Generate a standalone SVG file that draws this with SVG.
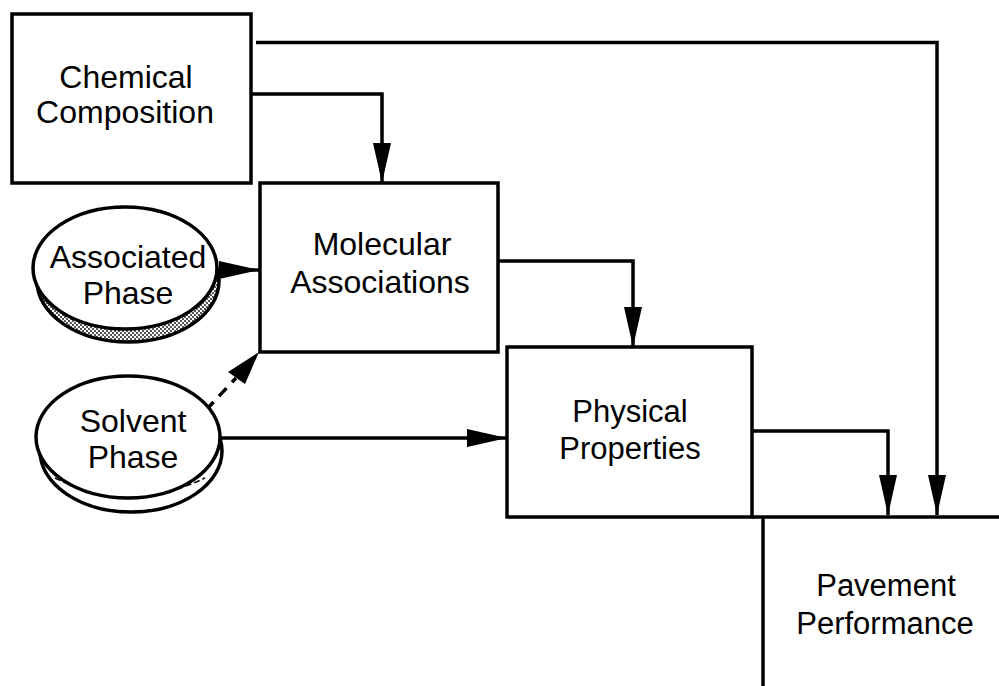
<svg xmlns="http://www.w3.org/2000/svg" width="999" height="686" viewBox="0 0 999 686">
  <style>
    .box { fill: #fff; stroke: #000; stroke-width: 3.5; }
    .line { fill: none; stroke: #000; stroke-width: 3.5; }
    .dash { fill: none; stroke: #000; stroke-width: 3.5; stroke-dasharray: 11 8; }
    .lbl { font-family: "Liberation Sans", Arial, sans-serif; font-size: 32px; fill: #000; text-anchor: middle; }
    .lbl31 { font-size: 31px; }
    .disc { fill: #fff; stroke: #000; stroke-width: 3.5; }
  </style>
  <defs>
    <pattern id="stipple" width="4" height="4" patternUnits="userSpaceOnUse">
      <rect width="4" height="4" fill="#fff"/>
      <rect x="0" y="0" width="2" height="2" fill="#555"/>
      <rect x="2" y="2" width="2" height="2" fill="#555"/>
    </pattern>
    <marker id="arrow" viewBox="0 0 40 18" refX="40" refY="9" markerWidth="40" markerHeight="18" markerUnits="userSpaceOnUse" orient="auto">
      <path d="M0,0 L40,9 L0,18 Z" fill="#000"/>
    </marker>
  </defs>

  <g id="connectors">
    <path class="line" d="M256,42.5 H937 V515" marker-end="url(#arrow)"/>
    <path class="line" d="M251,94 H382 V183" marker-end="url(#arrow)"/>
    <path class="line" d="M498,261 H633 V347" marker-end="url(#arrow)"/>
    <path class="line" d="M752,431 H888 V515" marker-end="url(#arrow)"/>
    <path class="line" d="M217,270 H259" marker-end="url(#arrow)"/>
    <path class="line" d="M221,438 H507" marker-end="url(#arrow)"/>
    <path class="dash" d="M206,410 L236,378"/>
    <path d="M259,352 L228,372 L245,384 Z" fill="#000"/>
  </g>

  <g id="chemical-composition">
    <rect class="box" x="12" y="14" width="239" height="169"/>
    <text class="lbl" x="126" y="88">Chemical</text>
    <text class="lbl" x="125" y="123">Composition</text>
  </g>

  <g id="molecular-associations">
    <rect class="box" x="260" y="183" width="238" height="169"/>
    <text class="lbl" x="382" y="255">Molecular</text>
    <text class="lbl" x="380" y="293">Associations</text>
  </g>

  <g id="physical-properties">
    <rect class="box" x="507" y="347" width="245" height="170"/>
    <text class="lbl lbl31" x="630" y="422">Physical</text>
    <text class="lbl lbl31" x="630" y="459">Properties</text>
  </g>

  <g id="pavement-performance">
    <path class="line" d="M752,517 H999 M763,517 V686"/>
    <text class="lbl lbl31" x="886" y="596">Pavement</text>
    <text class="lbl lbl31" x="885" y="634">Performance</text>
  </g>

  <g id="associated-phase">
    <ellipse cx="128" cy="281" rx="91" ry="61" fill="url(#stipple)" stroke="#000" stroke-width="3.5"/>
    <ellipse class="disc" cx="125" cy="268" rx="92" ry="61"/>
    <text class="lbl" x="128" y="268">Associated</text>
    <text class="lbl" x="128" y="304">Phase</text>
  </g>

  <g id="solvent-phase">
    <ellipse class="disc" cx="131" cy="451" rx="91" ry="61"/>
    <path d="M55,478 Q128,515 205,478" fill="none" stroke="#000" stroke-width="1.5" stroke-dasharray="6 3"/>
    <ellipse class="disc" cx="128" cy="437" rx="92" ry="61"/>
    <text class="lbl" x="133" y="432">Solvent</text>
    <text class="lbl" x="133" y="468">Phase</text>
  </g>
</svg>
